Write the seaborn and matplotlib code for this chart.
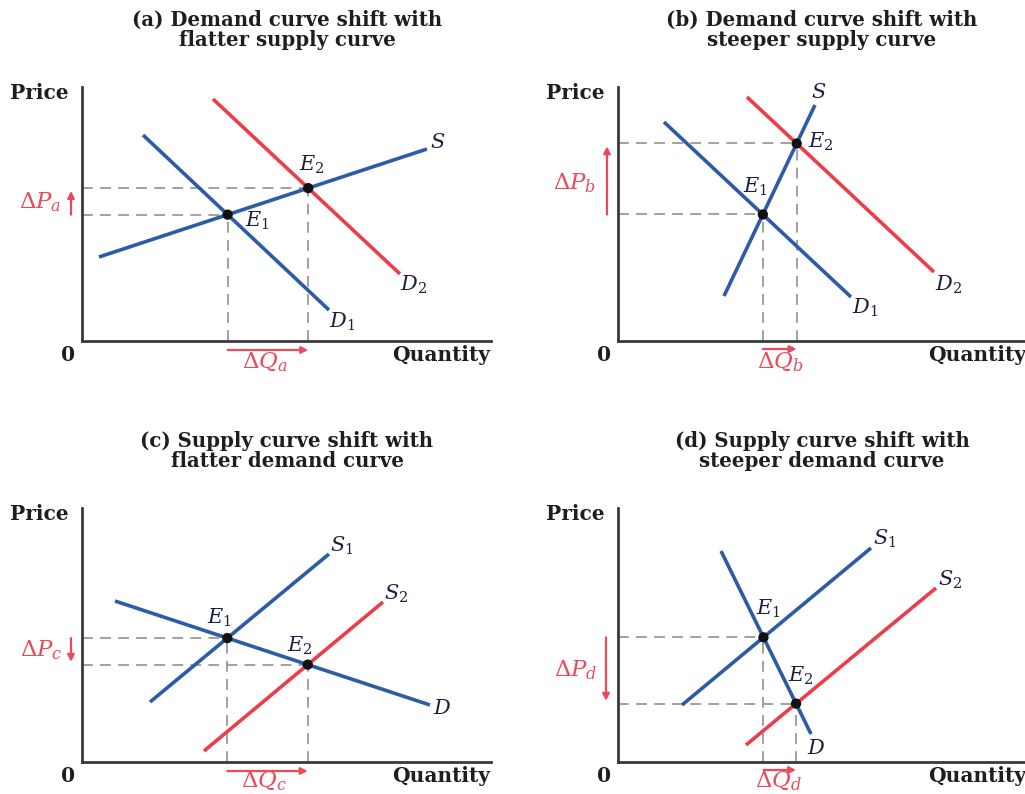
import numpy as np
import pandas as pd
import seaborn as sns
import matplotlib
matplotlib.use("Agg")
import matplotlib.pyplot as plt

sns.set_theme(style="white")
plt.rcParams["font.family"] = ["DejaVu Serif"]
plt.rcParams["mathtext.fontset"] = "dejavuserif"

# ---------------- data (quantity, price) ----------------
# panel (a): demand shift, flatter supply
A_S_Q, A_S_P = [17, 345], [84, 192]
A_D1_Q, A_D1_P = [61, 247], [206, 31]
A_D2_Q, A_D2_P = [131, 318], [242, 67]
# panel (b): demand shift, steeper supply
B_S_Q, B_S_P = [106, 197], [45, 236]
B_D1_Q, B_D1_P = [46, 233], [219, 44]
B_D2_Q, B_D2_P = [129, 316], [244, 69]
# panel (c): supply shift, flatter demand
C_D_Q, C_D_P = [33, 348], [161, 57]
C_S1_Q, C_S1_P = [68, 247], [60, 208]
C_S2_Q, C_S2_P = [122, 301], [11, 160]
# panel (d): supply shift, steeper demand
D_D_Q, D_D_P = [103, 193], [211, 28]
D_S1_Q, D_S1_P = [64, 253], [57, 214]
D_S2_Q, D_S2_P = [128, 318], [17, 174]

TITLES = ["(a) Demand curve shift with\nflatter supply curve",
          "(b) Demand curve shift with\nsteeper supply curve",
          "(c) Supply curve shift with\nflatter demand curve",
          "(d) Supply curve shift with\nsteeper demand curve"]
LETTERS = ["a", "b", "c", "d"]

BLUE = "#2c5ba8"
RED = "#ec3d4b"
PINK = "#ea4a5a"
GRAY = "#9a9a9a"
INK = "#1c2040"
AXC = "#3a3a3a"
TXT = "#1e1e1e"

W, H = 1025, 794
fig = plt.figure(figsize=(W / 100, H / 100), dpi=100)


def inter(q1, p1, q2, p2):
    m1 = (p1[1] - p1[0]) / (q1[1] - q1[0])
    m2 = (p2[1] - p2[0]) / (q2[1] - q2[0])
    b1 = p1[0] - m1 * q1[0]
    b2 = p2[0] - m2 * q2[0]
    q = (b2 - b1) / (m1 - m2)
    return q, m1 * q + b1


panels = [
    dict(origin=(82, 341), right=491, top=87,
         curves=[(A_S_Q, A_S_P, BLUE, "S"), (A_D1_Q, A_D1_P, BLUE, "D1"), (A_D2_Q, A_D2_P, RED, "D2")],
         eq1=("S", "D1"), eq2=("S", "D2"),
         labels={"S": (356, 199), "D1": (260, 19), "D2": (331, 56)},
         e_lab=[(175, 120), (230, 176)],
         title_x=205, dp_lab=(-42, 139), dq_lab=(183, -21), dp_x=-11, dq_y=-9),
    dict(origin=(618, 341), right=1025, top=87,
         curves=[(B_S_Q, B_S_P, BLUE, "S"), (B_D1_Q, B_D1_P, BLUE, "D1"), (B_D2_Q, B_D2_P, RED, "D2")],
         eq1=("S", "D1"), eq2=("S", "D2"),
         labels={"S": (201, 249), "D1": (247, 33), "D2": (330, 56)},
         e_lab=[(137, 154), (203, 199)],
         title_x=204, dp_lab=(-43, 158), dq_lab=(162, -21), dp_x=-11, dq_y=-8),
    dict(origin=(82, 762), right=491, top=508,
         curves=[(C_D_Q, C_D_P, BLUE, "D"), (C_S1_Q, C_S1_P, BLUE, "S1"), (C_S2_Q, C_S2_P, RED, "S2")],
         eq1=("D", "S1"), eq2=("D", "S2"),
         labels={"D": (360, 54), "S1": (260, 216), "S2": (314, 168)},
         e_lab=[(137, 144), (218, 116)],
         title_x=205, dp_lab=(-41, 112), dq_lab=(182, -19), dp_x=-11, dq_y=-9),
    dict(origin=(618, 762), right=1025, top=508,
         curves=[(D_D_Q, D_D_P, BLUE, "D"), (D_S1_Q, D_S1_P, BLUE, "S1"), (D_S2_Q, D_S2_P, RED, "S2")],
         eq1=("D", "S1"), eq2=("D", "S2"),
         labels={"D": (198, 14), "S1": (267, 223), "S2": (332, 182)},
         e_lab=[(150, 153), (183, 86)],
         title_x=204, dp_lab=(-42, 92), dq_lab=(160, -19), dp_x=-12, dq_y=-8),
]


def mlabel(name):
    if len(name) == 1:
        return "$" + name + "$"
    return "$" + name[0] + "_{" + name[1:] + "}$"


for k, pn in enumerate(panels):
    x0, y0 = pn["origin"]
    wpx = pn["right"] - x0
    hpx = y0 - pn["top"]
    ax = fig.add_axes([x0 / W, (H - y0) / H, wpx / W, hpx / H])
    ax.set_xlim(0, wpx)
    ax.set_ylim(0, hpx)
    ax.set_facecolor("none")
    for s in ["top", "right"]:
        ax.spines[s].set_visible(False)
    for s in ["left", "bottom"]:
        ax.spines[s].set_color(AXC)
        ax.spines[s].set_linewidth(2.0)
    ax.set_xticks([])
    ax.set_yticks([])

    cd = {}
    for q, p, col, name in pn["curves"]:
        cd[name] = (q, p)
        df = pd.DataFrame({"q": q, "p": p})
        sns.lineplot(data=df, x="q", y="p", color=col, lw=2.6, sort=False,
                     estimator=None, ax=ax, solid_capstyle="butt", zorder=3)
        lx, ly = pn["labels"][name]
        ax.text(lx, ly, mlabel(name), fontsize=15, color=INK, ha="center", va="center",
                clip_on=False)
    ax.set_xlabel("")
    ax.set_ylabel("")

    e1 = inter(*cd[pn["eq1"][0]], *cd[pn["eq1"][1]])
    e2 = inter(*cd[pn["eq2"][0]], *cd[pn["eq2"][1]])
    for (eq, ep) in (e1, e2):
        ax.plot([0, eq], [ep, ep], color=GRAY, lw=1.3, dashes=(6, 4), zorder=1)
        ax.plot([eq, eq], [0, ep], color=GRAY, lw=1.3, dashes=(6, 4), zorder=1)
    sns.scatterplot(x=[e1[0], e2[0]], y=[e1[1], e2[1]], color="#111111", s=55,
                    edgecolor="none", ax=ax, zorder=5)
    for i, (lx, ly) in enumerate(pn["e_lab"]):
        ax.text(lx, ly, "$E_{%d}$" % (i + 1), fontsize=15, color=INK, ha="center",
                va="center", clip_on=False)

    # axis words
    ax.text(-43, hpx - 6, "Price", fontsize=14.5, fontweight="bold", color=TXT,
            ha="center", va="center", clip_on=False)
    ax.text(-14, -14, "0", fontsize=14.5, fontweight="bold", color=TXT,
            ha="center", va="center", clip_on=False)
    ax.text(359, -14, "Quantity", fontsize=14.5,
            fontweight="bold", color=TXT, ha="center", va="center", clip_on=False)

    # title
    ax.text(pn["title_x"], hpx + 57, TITLES[k], fontsize=14.2, fontweight="bold",
            color=TXT, ha="center", va="center", linespacing=1.05, clip_on=False)

    # delta arrows
    L = LETTERS[k]
    ax.annotate("", xy=(pn["dp_x"], e2[1]), xytext=(pn["dp_x"], e1[1]),
                arrowprops=dict(arrowstyle="-|>", color=PINK, lw=1.6,
                                mutation_scale=10, shrinkA=0, shrinkB=2),
                annotation_clip=False)
    ax.annotate("", xy=(e2[0], pn["dq_y"]), xytext=(e1[0], pn["dq_y"]),
                arrowprops=dict(arrowstyle="-|>", color=PINK, lw=1.6,
                                mutation_scale=10, shrinkA=0, shrinkB=0),
                annotation_clip=False)
    ax.text(*pn["dp_lab"], r"$\Delta P_{%s}$" % L, fontsize=16.5, color=PINK,
            ha="center", va="center", clip_on=False)
    ax.text(*pn["dq_lab"], r"$\Delta Q_{%s}$" % L, fontsize=16.5, color=PINK,
            ha="center", va="center", clip_on=False)

fig.savefig("out.png", dpi=100)
